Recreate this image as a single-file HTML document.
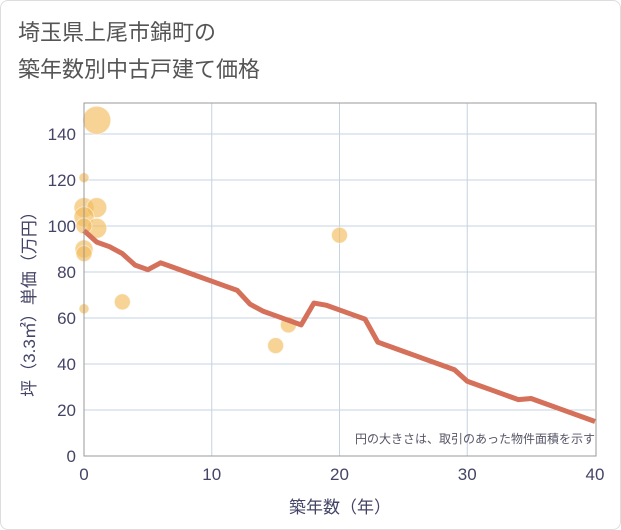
<!DOCTYPE html>
<html><head><meta charset="utf-8"><style>
body{margin:0;background:#fff;font-family:"Liberation Sans","Noto Sans CJK JP",sans-serif;}
#wrap{position:relative;width:619px;height:528px;border:1px solid #ddd;border-radius:8px;background:#fff;overflow:hidden}
</style></head><body>
<div id="wrap">
<svg id="chart" width="621" height="530" style="position:absolute;left:-1px;top:-1px">
<text x="18" y="40" font-size="22" fill="#555">埼玉県上尾市錦町の</text>
<text x="18" y="77" font-size="22" fill="#555">築年数別中古戸建て価格</text>
<g id="grid"></g><g id="bubbles"></g><g id="line"></g><g id="axes"></g>
<text x="595" y="443" font-size="12" fill="#556" text-anchor="end">円の大きさは、取引のあった物件面積を示す</text>
<text x="340" y="513" font-size="17" fill="#446" text-anchor="middle">築年数（年）</text>
<text transform="translate(35,300) rotate(-90)" font-size="17" fill="#446" text-anchor="middle">坪（3.3㎡）単価（万円）</text>
</svg></div>
<script>
const xTicks=[0,10,20,30,40];
const yTicks=[0,20,40,60,80,100,120,140];
const lineX=[0,1,2,3,4,5,6,7,8,9,10,11,12,13,14,15,16,17,18,19,20,21,22,23,24,25,26,27,28,29,30,31,32,33,34,35,36,37,38,39,40];
const lineY=[98,93,91,88,83,81,84,82,80,78,76,74,72,66,63,61,59,57,66.5,65.5,63.5,61.5,59.5,49.5,47.5,45.5,43.5,41.5,39.5,37.5,32.5,30.5,28.5,26.5,24.5,25,23,21,19,17,15];
const bubX=[1,0,0,1,0,1,0,0,0,3,0,20,15,16];
const bubY=[146,121,108,108,104,99,100,90,88,67,64,96,48,57];
const bubR=[14,5,10,10,10,10,8,9,8,8,5,8,8,8];
const NS="http://www.w3.org/2000/svg";
const X0=84,X1=595,Y0=456,Y1=103;
const sx=v=>X0+(v/40)*(X1-X0);
const sy=v=>Y0-(v/140)*(Y0-134);
function mk(t,a,p){const e=document.createElementNS(NS,t);for(const k in a)e.setAttribute(k,a[k]);p.appendChild(e);return e;}
const grid=document.getElementById('grid'),axes=document.getElementById('axes');
yTicks.forEach(v=>{
 if(v>0){const l=mk('line',{x1:X0,x2:X1,y1:sy(v),y2:sy(v),stroke:'#c5d3e2','stroke-width':1},grid);
 
 }
 const t=mk('text',{x:X0-8,y:sy(v)+6,'font-size':17,fill:'#446','text-anchor':'end'},axes);t.textContent=v;
 
 
});
xTicks.forEach(v=>{
 if(v>0&&v<40){const l=mk('line',{x1:sx(v),x2:sx(v),y1:Y1,y2:Y0,stroke:'#c5d3e2','stroke-width':1},grid);
 
 }
 const t=mk('text',{x:sx(v),y:Y0+24,'font-size':17,fill:'#446','text-anchor':'middle'},axes);t.textContent=v;
 
 
});
const fr=mk('rect',{x:X0,y:Y1,width:X1-X0+1,height:Y0-Y1,fill:'none',stroke:'#999','stroke-width':1},axes);


const bg=document.getElementById('bubbles');
bubX.forEach((x,i)=>{
 const c=mk('circle',{cx:sx(x),cy:sy(bubY[i]),r:bubR[i],fill:'#f3bb5c','fill-opacity':0.65,stroke:'#fff','stroke-opacity':0.5},bg);
 
 
});
const pts=lineX.map((x,i)=>sx(x)+','+sy(lineY[i])).join(' ');
const pl=mk('polyline',{points:pts,fill:'none',stroke:'#d5705a','stroke-width':5,'stroke-linejoin':'round'},document.getElementById('line'));


</script>
</body></html>
